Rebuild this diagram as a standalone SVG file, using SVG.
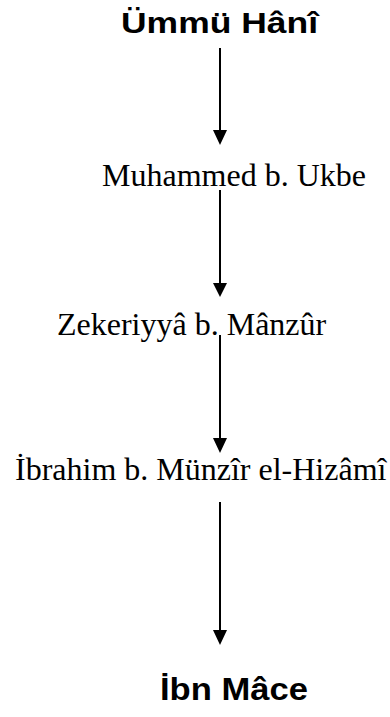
<svg xmlns="http://www.w3.org/2000/svg" width="390" height="717" viewBox="0 0 390 717">
  <style>
    .serif { font-family: "Liberation Serif", "Times New Roman", serif; font-size: 32px; fill: #000; }
    .bold { font-family: "Liberation Sans", Arial, sans-serif; font-weight: bold; fill: #000; }
    .line { stroke: #000; stroke-width: 2; }
    .head { fill: #000; }
  </style>
  <rect width="390" height="717" fill="#fff"/>
  <g id="n1"><text class="bold" x="121" y="33" font-size="30" textLength="197" lengthAdjust="spacingAndGlyphs">Ümmü Hânî</text></g>
  <g id="n2"><text class="serif" x="102" y="186">Muhammed b. Ukbe</text></g>
  <g id="n3"><text class="serif" x="57" y="335">Zekeriyyâ b. Mânzûr</text></g>
  <g id="n4"><text class="serif" x="15" y="480">İbrahim b. Münzîr el-Hizâmî</text></g>
  <g id="n5"><text class="bold" x="160" y="700" font-size="31" textLength="148" lengthAdjust="spacingAndGlyphs">İbn Mâce</text></g>
  <g id="connectors">
    <line class="line" x1="220" y1="48" x2="220" y2="132"/>
    <polygon class="head" points="213,130 227,130 220,145"/>
    <line class="line" x1="220" y1="190" x2="220" y2="285"/>
    <polygon class="head" points="213,283 227,283 220,297"/>
    <line class="line" x1="220" y1="335" x2="220" y2="440"/>
    <polygon class="head" points="213,438 227,438 220,453"/>
    <line class="line" x1="220" y1="502" x2="220" y2="632"/>
    <polygon class="head" points="213,630 227,630 220,645"/>
  </g>
</svg>
